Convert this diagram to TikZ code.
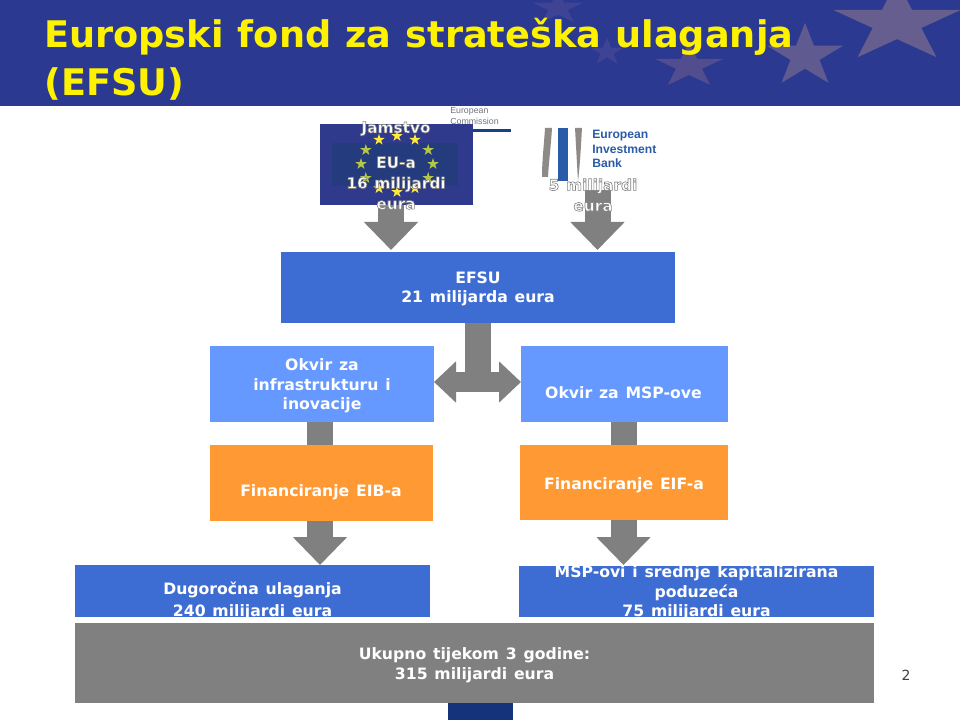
\documentclass[tikz,border=0pt]{standalone}
\usepackage{fontspec}
\setmainfont{DejaVu Sans}[WordSpace=1.25]
\newfontfamily\logofont{Liberation Sans}
\newfontfamily\titlefont{DejaVu Sans}[WordSpace=1.11]
\usetikzlibrary{arrows.meta}
\definecolor{headerblue}{HTML}{2B3990}
\definecolor{starbig}{HTML}{655E8F}
\definecolor{starmid}{HTML}{5F5A90}
\definecolor{starlow}{HTML}{514D8F}
\definecolor{starfaint}{HTML}{3E4393}
\definecolor{boxblue}{HTML}{3D6DD3}
\definecolor{lightblue}{HTML}{6699FF}
\definecolor{boxorange}{HTML}{FF9933}
\definecolor{boxgray}{HTML}{808080}
\definecolor{flagblue}{HTML}{2F3A8C}
\definecolor{flagdark}{HTML}{243C7E}
\definecolor{tabblue}{HTML}{14337A}
\definecolor{eibblue}{HTML}{2A5BA8}
\definecolor{eibgray}{HTML}{8E8A85}
\definecolor{ecgray}{HTML}{6F7480}
\definecolor{ecblue}{HTML}{14408C}
\definecolor{starone}{HTML}{FFE93B}
\definecolor{startwo}{HTML}{B5C64A}
\newcommand{\eustar}[5]{\fill[#4,shift={(#1,#2)},yscale=#5] (-90:#3) -- (-126:{.382*#3}) -- (-162:#3) -- (-198:{.382*#3}) -- (-234:#3) -- (-270:{.382*#3}) -- (-306:#3) -- (-342:{.382*#3}) -- (-378:#3) -- (-414:{.382*#3}) -- cycle;}
\newcommand{\glow}[1]{\special{pdf:code q 2 Tr 0.5 0.5 0.5 RG 0.45 w}#1\special{pdf:code Q}}
\tikzset{
  panel/.style={draw=none,inner sep=0pt},
  paneltext/.style={inner sep=0pt,align=center,text=white,yshift=-1.5pt,font=\fontsize{11.75}{14.5}\selectfont\bfseries},
  blockdown/.style={draw=boxgray,line width=19.5pt,-{Triangle[width=39.5pt,length=21pt]}},
  blockplain/.style={draw=boxgray,line width=19.5pt},
  blockboth/.style={draw=boxgray,line width=14.5pt,{Triangle[width=30pt,length=16.5pt]}-{Triangle[width=30pt,length=16.5pt]}},
  glowtext/.style={inner sep=0pt,align=center,text=white,font=\fontsize{11.5}{15.5}\selectfont\bfseries},
}
\begin{document}
\begin{tikzpicture}[x=0.75pt,y=-0.75pt]
\useasboundingbox (0,0) rectangle (960,720);
% header
\fill[headerblue] (0,0) rectangle (960,106);
\begin{scope}
\clip (0,0) rectangle (960,106);
\eustar{897}{23}{67}{starbig}{.63}
\eustar{805}{56}{40}{starmid}{.83}
\eustar{689}{66}{36}{starlow}{.65}
\eustar{607}{52}{18}{starfaint}{.8}
\eustar{558}{8}{27}{starfaint}{.65}
\end{scope}
\node[anchor=north west,inner sep=0pt,align=left,text=yellow,font=\titlefont\fontsize{27.5}{36}\selectfont\bfseries] (title) at (44,18) {Europski fond za strateška ulaganja\\(EFSU)};
% logo of the Commission
\node[anchor=north west,inner sep=0pt,align=left,text=ecgray,font=\logofont\fontsize{6.6}{8.5}\selectfont] (ectext) at (450,107) {European\\Commission};
\fill[ecblue] (450,129) rectangle (511,132);
% logo of the Bank
\fill[eibgray] (545,128) -- (552,128) .. controls (551,145) and (549,160) .. (548,177) -- (542,177) .. controls (542,160) and (544,145) .. (545,128) -- cycle;
\fill[eibblue] (558,128) rectangle (568,181);
\fill[eibgray] (575,128) -- (582,128) .. controls (581,145) and (580,165) .. (578,181) .. controls (577,165) and (576,145) .. (575,128) -- cycle;
\node[anchor=north west,inner sep=0pt,align=left,text=eibblue,font=\logofont\fontsize{9.1}{11.2}\selectfont\bfseries] (eibtext) at (592,129.5) {European\\Investment\\Bank};
% boxes
\coordinate (euout) at (391,205);
\coordinate (euin) at (391,250);
\coordinate (eibout) at (597.5,190);
\coordinate (eibin) at (597.5,250);
\draw[blockdown] (euout) -- (euin);
\draw[blockdown] (eibout) -- (eibin);
\node[panel,fill=flagblue,minimum width=114.75pt,minimum height=60.75pt] (flag) at (396.5,164.5) {};
\fill[flagdark] (332,143) rectangle (458,186);
\foreach \a/\c in {90/starone,60/starone,120/starone,30/startwo,150/startwo,0/startwo,180/startwo,-30/startwo,210/startwo,-60/starone,240/starone,-90/starone}{
  \eustar{{397+36*cos(\a)}}{{164-28*sin(\a)}}{6}{\c}{1}
}
\node[panel,fill=boxblue,minimum width=295.5pt,minimum height=53.25pt] (efsu) at (478,287.5) {};
\node[panel,fill=lightblue,minimum width=168pt,minimum height=57pt] (okvirinfra) at (322,384) {};
\node[panel,fill=lightblue,minimum width=155.25pt,minimum height=57pt] (okvirmsp) at (624.5,384) {};
\node[panel,fill=boxorange,minimum width=167.25pt,minimum height=57pt] (fineib) at (321.5,483) {};
\node[panel,fill=boxorange,minimum width=156pt,minimum height=56.25pt] (fineif) at (624,482.5) {};
\node[panel,fill=boxblue,minimum width=266.25pt,minimum height=39pt] (dugo) at (252.5,591) {};
\node[panel,fill=boxblue,minimum width=266.25pt,minimum height=38.25pt] (mspbox) at (696.5,591.5) {};
\node[panel,fill=boxgray,minimum width=599.25pt,minimum height=60pt] (total) at (474.5,663) {};
\fill[tabblue] (448,703) rectangle (513,720);
% connectors
\coordinate (tl) at (434,382);
\coordinate (tr) at (521,382);
\coordinate (tm) at (477.5,392);
\draw[blockplain] (efsu.south -| tm) -- (tm);
\draw[blockboth] (tl) -- (tr);
\coordinate (ca) at (320,430);
\coordinate (cb) at (624,430);
\draw[blockplain] (ca |- okvirinfra.south) -- (ca |- fineib.north);
\draw[blockplain] (cb |- okvirmsp.south) -- (cb |- fineif.north);
\coordinate (fa) at (320,565);
\coordinate (fb) at (623.5,565);
\draw[blockdown] (fa |- fineib.south) -- (fa);
\draw[blockdown] (fb |- fineif.south) -- (fb);
% texts
\node[paneltext] (efsutext) at (478,287) {EFSU\\21 milijarda eura};
\node[paneltext] (infratext) at (322,384) {Okvir za\\infrastrukturu i\\inovacije};
\node[paneltext] (msptitle) at (623.5,391) {Okvir za MSP-ove};
\node[paneltext] (eibfin) at (321,490) {Financiranje EIB-a};
\node[paneltext] (eiffin) at (624,483) {Financiranje EIF-a};
\node[paneltext,font=\fontsize{11.75}{16.2}\selectfont\bfseries] (dugotext) at (252.5,599) {Dugoročna ulaganja\\240 milijardi eura};
\node[paneltext] (msptext) at (696.5,591) {MSP-ovi i srednje kapitalizirana\\poduzeća\\75 milijardi eura};
\node[paneltext,font=\fontsize{11.75}{15}\selectfont\bfseries] (totaltext) at (474.5,663) {Ukupno tijekom 3 godine:\\315 milijardi eura};
\node[glowtext] (eutext) at (396,165.5) {\glow{Jamstvo}\\[10.75pt]\glow{EU-a}\\\glow{16 milijardi}\\\glow{eura}};
\node[glowtext] (eibsum) at (593,195) {\glow{5 milijardi}\\\glow{eura}};
\node[inner sep=0pt,text=black!75,font=\fontsize{10.5}{12}\selectfont] (page) at (906,675) {2};
\end{tikzpicture}
\end{document}
